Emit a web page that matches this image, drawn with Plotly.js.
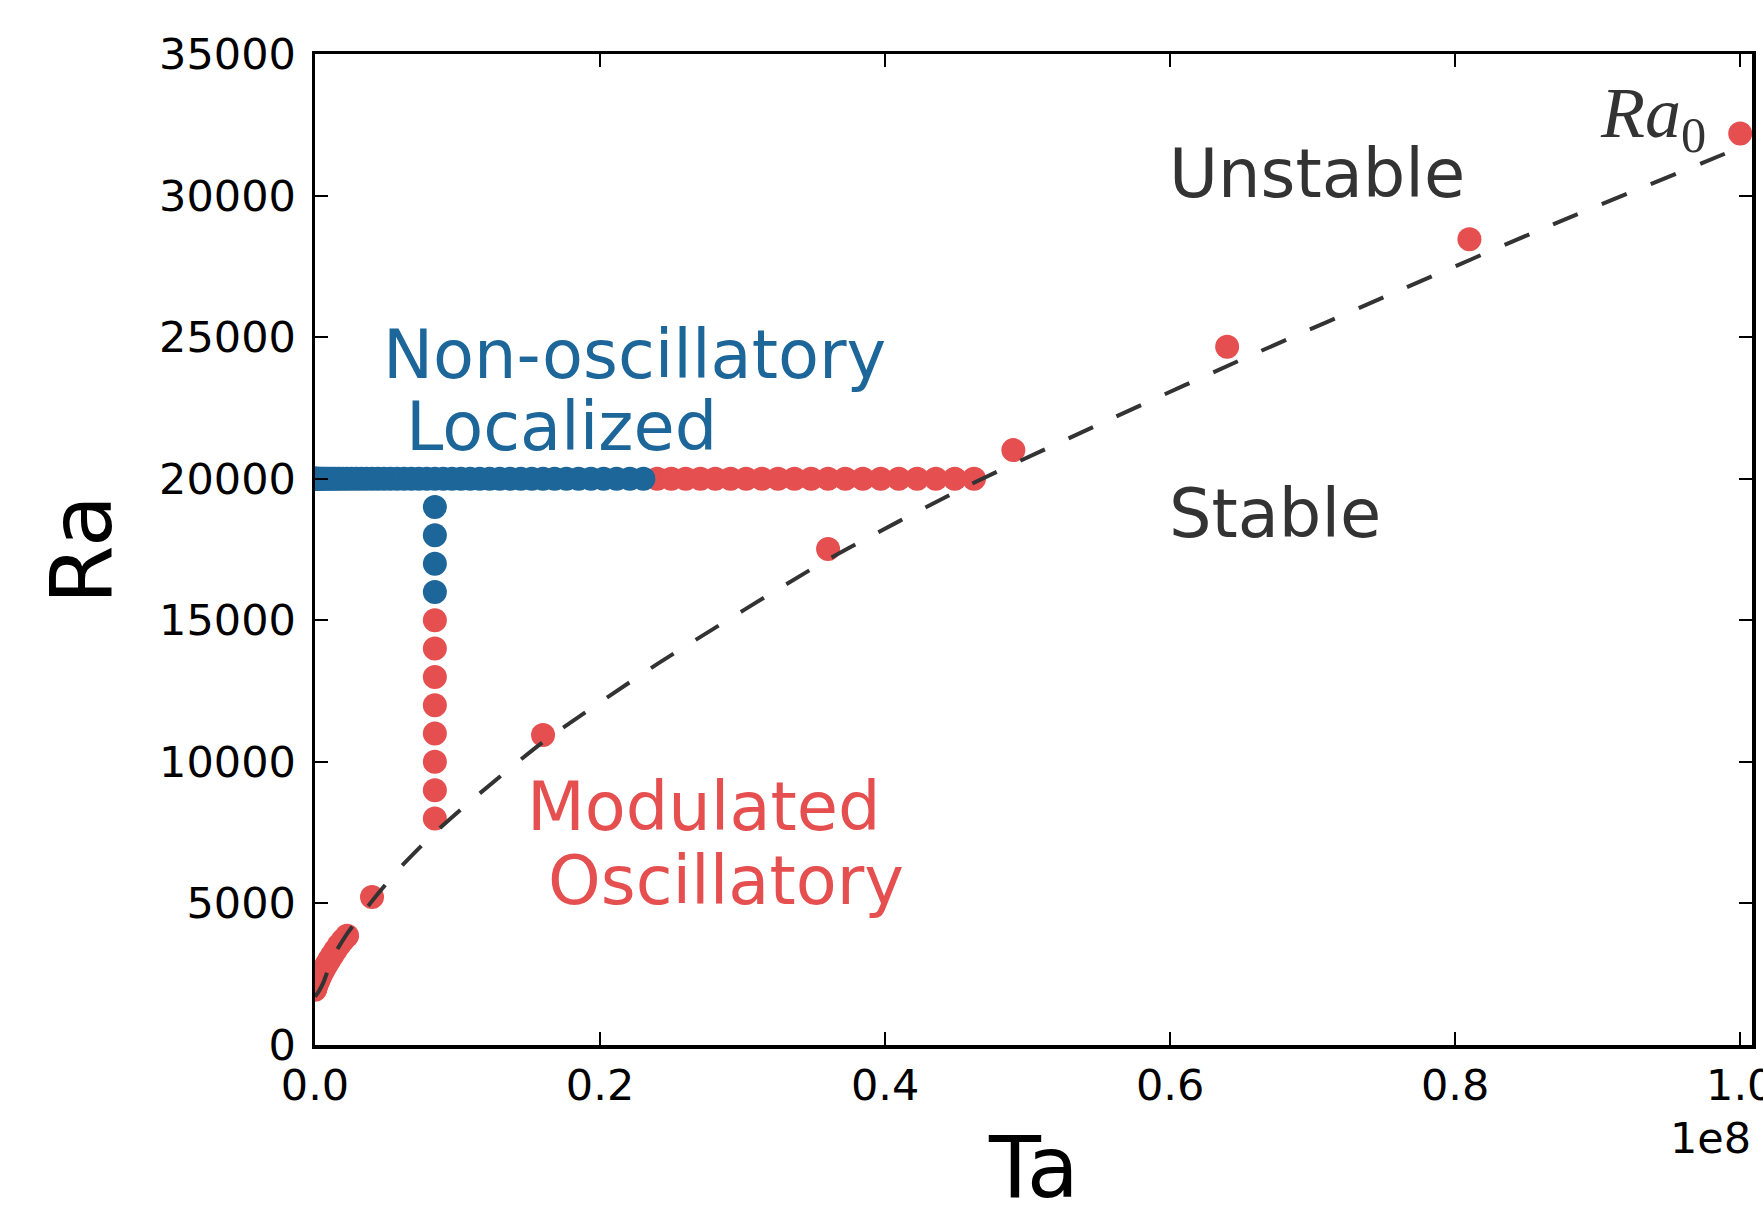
<!DOCTYPE html>
<html>
<head>
<meta charset="utf-8">
<script src="https://cdn.plot.ly/plotly-3.0.1.min.js"></script>
<style>html,body{margin:0;padding:0;background:#fff;}#chart{width:1763px;height:1206px;}</style>
</head>
<body>
<div id="chart"></div>
<script>
// ---- data ----
// row at Ra = 20000, non-oscillatory (blue) part
const rowBlueTa = [0, 1e4, 4e4, 9e4, 16e4, 25e4, 36e4, 49e4, 64e4, 81e4, 100e4, 121e4, 144e4, 169e4, 196e4, 225e4, 256e4, 289e4, 324e4, 361e4, 400e4, 441e4, 484e4, 529e4, 576e4, 625e4, 676e4, 729e4, 784e4, 841e4, 900e4, 961e4, 1024e4, 1089e4, 1156e4, 1225e4, 1296e4, 1369e4, 1444e4, 1521e4, 1600e4, 1681e4, 1764e4, 1849e4, 1936e4, 2025e4, 2116e4, 2209e4, 2304e4];
const rowBlueRa = rowBlueTa.map(() => 20000);
// row at Ra = 20000, modulated oscillatory (red) part
const rowRedTa = [2401e4, 2500e4, 2601e4, 2704e4, 2809e4, 2916e4, 3025e4, 3136e4, 3249e4, 3364e4, 3481e4, 3600e4, 3721e4, 3844e4, 3969e4, 4096e4, 4225e4, 4356e4, 4489e4, 4624e4];
const rowRedRa = rowRedTa.map(() => 20000);
// column at Ta = 8.41e6
const colBlueTa = [841e4, 841e4, 841e4, 841e4];
const colBlueRa = [19000, 18000, 17000, 16000];
const colRedTa = [841e4, 841e4, 841e4, 841e4, 841e4, 841e4, 841e4, 841e4];
const colRedRa = [15000, 14000, 13000, 12000, 11000, 10000, 9000, 8000];
// small-Ta cluster
const clusterTa = [0, 1e4, 4e4, 9e4, 16e4, 25e4, 36e4, 49e4, 64e4, 81e4, 100e4, 121e4, 144e4, 169e4, 196e4, 225e4];
const clusterRa = [1950, 1990, 2030, 2100, 2200, 2300, 2420, 2550, 2690, 2840, 3000, 3170, 3350, 3530, 3700, 3860];
// onset points Ra0
const onsetTa = [4e6, 16e6, 36e6, 49e6, 64e6, 81e6, 100e6];
const onsetRa = [5230, 10950, 17520, 21010, 24660, 28460, 32190];
// dashed boundary curve
const curveTa = [0, 0.25e6, 0.6e6, 1.25e6, 2.2e6, 3.4e6, 4.4e6, 6e6, 8.3e6, 11e6, 16e6, 24e6, 36e6, 46e6, 56e6, 66e6, 76e6, 86e6, 100e6];
const curveRa = [1708, 1880, 2220, 3100, 3890, 4700, 5330, 6280, 7450, 8650, 10700, 13450, 17150, 19800, 22150, 24430, 26630, 28800, 31700];
// ticks
const xTickVals = [0, 2e7, 4e7, 6e7, 8e7, 1e8];
const xTickText = ['0.0', '0.2', '0.4', '0.6', '0.8', '1.0'];
const yTickVals = [0, 5000, 10000, 15000, 20000, 25000, 30000, 35000];

const RED = '#E64F4F';
const BLUE = '#1C6699';
const DARK = '#333333';
const FONT = 'DejaVu Sans';

const redTa = [].concat(rowRedTa, colRedTa, clusterTa, onsetTa);
const redRa = [].concat(rowRedRa, colRedRa, clusterRa, onsetRa);
const blueTa = [].concat(rowBlueTa, colBlueTa);
const blueRa = [].concat(rowBlueRa, colBlueRa);

const traces = [
  {x: redTa, y: redRa, type: 'scatter', mode: 'markers', name: 'Modulated Oscillatory',
   marker: {color: RED, size: 24, line: {width: 0}}, hoverinfo: 'x+y'},
  {x: blueTa, y: blueRa, type: 'scatter', mode: 'markers', name: 'Non-oscillatory Localized',
   marker: {color: BLUE, size: 24, line: {width: 0}}, hoverinfo: 'x+y'},
  {x: curveTa, y: curveRa, type: 'scatter', mode: 'lines', name: 'boundary',
   line: {color: DARK, width: 4, dash: '27px,26px', shape: 'spline', smoothing: 0.6}}
];

function ann(text, x, y, color, size, xanchor, family) {
  return {text: text, x: x, y: y, xref: 'x', yref: 'y', showarrow: false,
          xanchor: xanchor || 'left', yanchor: 'middle', borderpad: 0,
          font: {family: family || FONT, size: size, color: color}};
}

const layout = {
  width: 1763, height: 1206, autosize: false,
  paper_bgcolor: '#ffffff', plot_bgcolor: '#ffffff',
  showlegend: false,
  margin: {l: 314.5, r: 10.5, t: 53.5, b: 160.5, pad: 0},
  font: {family: FONT, color: '#000'},
  xaxis: {
    range: [0, 1.00827e8], tickvals: xTickVals, ticktext: xTickText,
    showgrid: false, zeroline: false, showline: true, linecolor: '#000', linewidth: 3.5,
    mirror: 'ticks', ticks: 'inside', ticklen: 13, tickwidth: 2, tickcolor: '#000',
    tickfont: {family: FONT, size: 43, color: '#000'}, ticklabeloverflow: 'allow',
    automargin: false
  },
  yaxis: {
    range: [0, 35000], tickvals: yTickVals, tickformat: 'd',
    showgrid: false, zeroline: false, showline: true, linecolor: '#000', linewidth: 3.5,
    mirror: 'ticks', ticks: 'inside', ticklen: 13, tickwidth: 2, tickcolor: '#000',
    tickfont: {family: FONT, size: 43, color: '#000'}, ticklabelstandoff: 7,
    title: {text: 'Ra', font: {family: FONT, size: 85, color: '#000'}, standoff: 20},
    automargin: false
  },
  annotations: [
    // x-axis title (placed as annotation so it can sit below the margin limit)
    {text: 'Ta', xref: 'paper', yref: 'paper', x: 0.5, y: -0.1235, xanchor: 'center', yanchor: 'middle',
     showarrow: false, borderpad: 0, font: {family: FONT, size: 85, color: '#000'}},
    ann('Non-oscillatory', 4.67e6, 24380, BLUE, 67),
    ann('Localized', 6.30e6, 21840, BLUE, 67),
    ann('Modulated', 14.83e6, 8400, RED, 67),
    ann('Oscillatory', 16.29e6, 5790, RED, 67),
    ann('Unstable', 59.86e6, 30760, DARK, 67),
    ann('Stable', 59.86e6, 18750, DARK, 67),
    ann('<i>Ra</i><sub>0</sub>', 97.7e6, 32750, DARK, 72, 'right', 'Liberation Serif'),
    {text: '1e8', xref: 'paper', yref: 'paper', x: 1, y: -0.0937, xanchor: 'right', yanchor: 'middle',
     showarrow: false, borderpad: 0, font: {family: FONT, size: 43, color: '#000'}}
  ]
};

Plotly.newPlot('chart', traces, layout, {staticPlot: true, displayModeBar: false});
</script>
</body>
</html>
